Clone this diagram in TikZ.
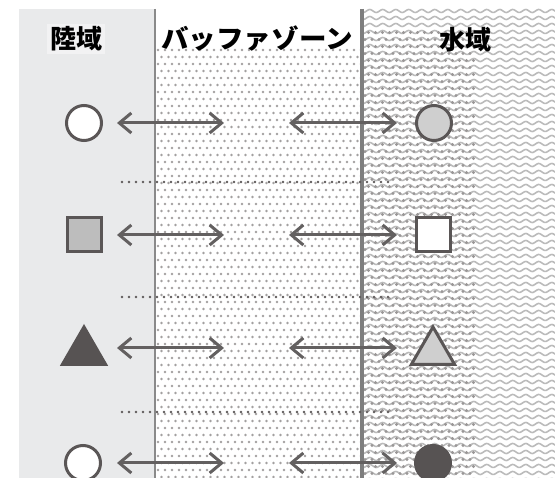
\documentclass[tikz,border=0pt]{standalone}
\usepackage{fontspec}
\newfontfamily\jp{Noto Sans CJK JP}
\usetikzlibrary{arrows.meta,shapes.geometric}
\definecolor{land}{HTML}{E9EAEB}
\definecolor{labelbg}{HTML}{F2F2F3}
\definecolor{wavec}{HTML}{BBBBBB}
\definecolor{dotc}{HTML}{A3A0A0}
\definecolor{dotd}{HTML}{9A9797}
\definecolor{outl}{HTML}{5A5656}
\definecolor{lgray}{HTML}{CFCFCF}
\definecolor{mgray}{HTML}{BDBDBD}
\definecolor{dgray}{HTML}{575353}
\definecolor{arrc}{HTML}{636060}
\definecolor{thinline}{HTML}{8A8A8A}
\definecolor{thickline}{HTML}{7E7E7E}
\definecolor{sepc}{HTML}{5E5A5A}
\tikzset{
  shp/.style={draw=outl, line width=3pt, inner sep=0pt},
  lbl/.style={font=\jp\bfseries\fontsize{26}{26}\selectfont, inner sep=3pt, text=black},
  arr/.style={draw=arrc, line width=3pt, {Straight Barb[length=12pt,width=20pt]}-{Straight Barb[length=12pt,width=20pt]}},
  sep/.style={draw=sepc, line width=2.6pt, line cap=round, dash pattern=on 0pt off 7pt},
  wave/.style={draw=wavec, line width=1.6pt}
}
\begin{document}
\begin{tikzpicture}[x=1pt,y=-1pt]
\useasboundingbox (0,0) rectangle (555,478);
\fill[white] (0,0) rectangle (555,478);
% land
\fill[land] (19,9) rectangle (155,478);
% water waves
\begin{scope}
\clip (362,9) rectangle (555,478);
\foreach \yy in {11,18,...,482} {
  \draw[wave] plot[domain=0:197,samples=160,smooth] ({\x+360},{\yy+1.5*sin(\x*27.6923)});
}
\end{scope}
% buffer dots (land side of water line)
\begin{scope}
\clip (155,48) rectangle (362,478);
\foreach \j in {0,...,62} {
  \pgfmathsetmacro\yy{50+7*\j}
  \pgfmathsetmacro\off{mod(\j,2)*3.5}
  \fill[dotc] \foreach \i in {0,...,30} { ({158+\off+7*\i},\yy) circle (1.45) };
}
\end{scope}
% buffer dots over water
\begin{scope}
\clip (362,30) rectangle (475,478);
\foreach \j in {0,...,65} {
  \pgfmathsetmacro\yy{29+7*\j}
  \pgfmathsetmacro\off{mod(\j,2)*3.5}
  \fill[dotd] \foreach \i in {0,...,17} { ({361.5+\off+7*\i},{\yy+3.5}) circle (1.7) };
}
\end{scope}
% dividing lines
\draw[thinline, line width=2pt] (155,9) -- (155,478);
\draw[thickline, line width=4pt] (362,9) -- (362,478);
% labels
\node[lbl, fill=labelbg] (landlbl) at (76,39) {陸域};
\node[lbl] (bufferlbl) at (257,39) {\scalebox{1.06}[1]{バッファゾーン}};
\node[lbl] (waterlbl) at (465,40) {水域};
% separators
\foreach \k/\yy in {1/182,2/297,3/412} {
  \coordinate (s\k a) at (122,\yy);
  \coordinate (s\k b) at (390,\yy);
  \draw[sep] (s\k a) -- (s\k b);
}
% shapes
\node[shp, circle, minimum size=35pt, fill=white] (l1) at (84,123) {};
\node[shp, circle, minimum size=35pt, fill=lgray] (r1) at (434,123) {};
\node[shp, rectangle, minimum size=34pt, fill=mgray] (l2) at (84,235) {};
\node[shp, rectangle, minimum size=34pt, fill=white] (r2) at (433,235) {};
\node[shp, regular polygon, regular polygon sides=3, minimum size=50pt, fill=dgray, draw=dgray] (l3) at (84,352) {};
\node[shp, regular polygon, regular polygon sides=3, minimum size=50pt, fill=lgray] (r3) at (433,352) {};
\node[shp, circle, minimum size=35pt, fill=white] (l4) at (83,463) {};
\node[shp, circle, minimum size=35pt, fill=dgray, draw=dgray] (r4) at (433,463) {};
% arrows
\foreach \k/\yy in {1/123,2/235,3/348,4/463} {
  \coordinate (al\k) at (117,\yy);
  \coordinate (bl\k) at (224,\yy);
  \coordinate (ar\k) at (289,\yy);
  \coordinate (br\k) at (397,\yy);
  \draw[arr] (al\k) -- (bl\k);
  \draw[arr] (ar\k) -- (br\k);
}
\end{tikzpicture}
\end{document}
